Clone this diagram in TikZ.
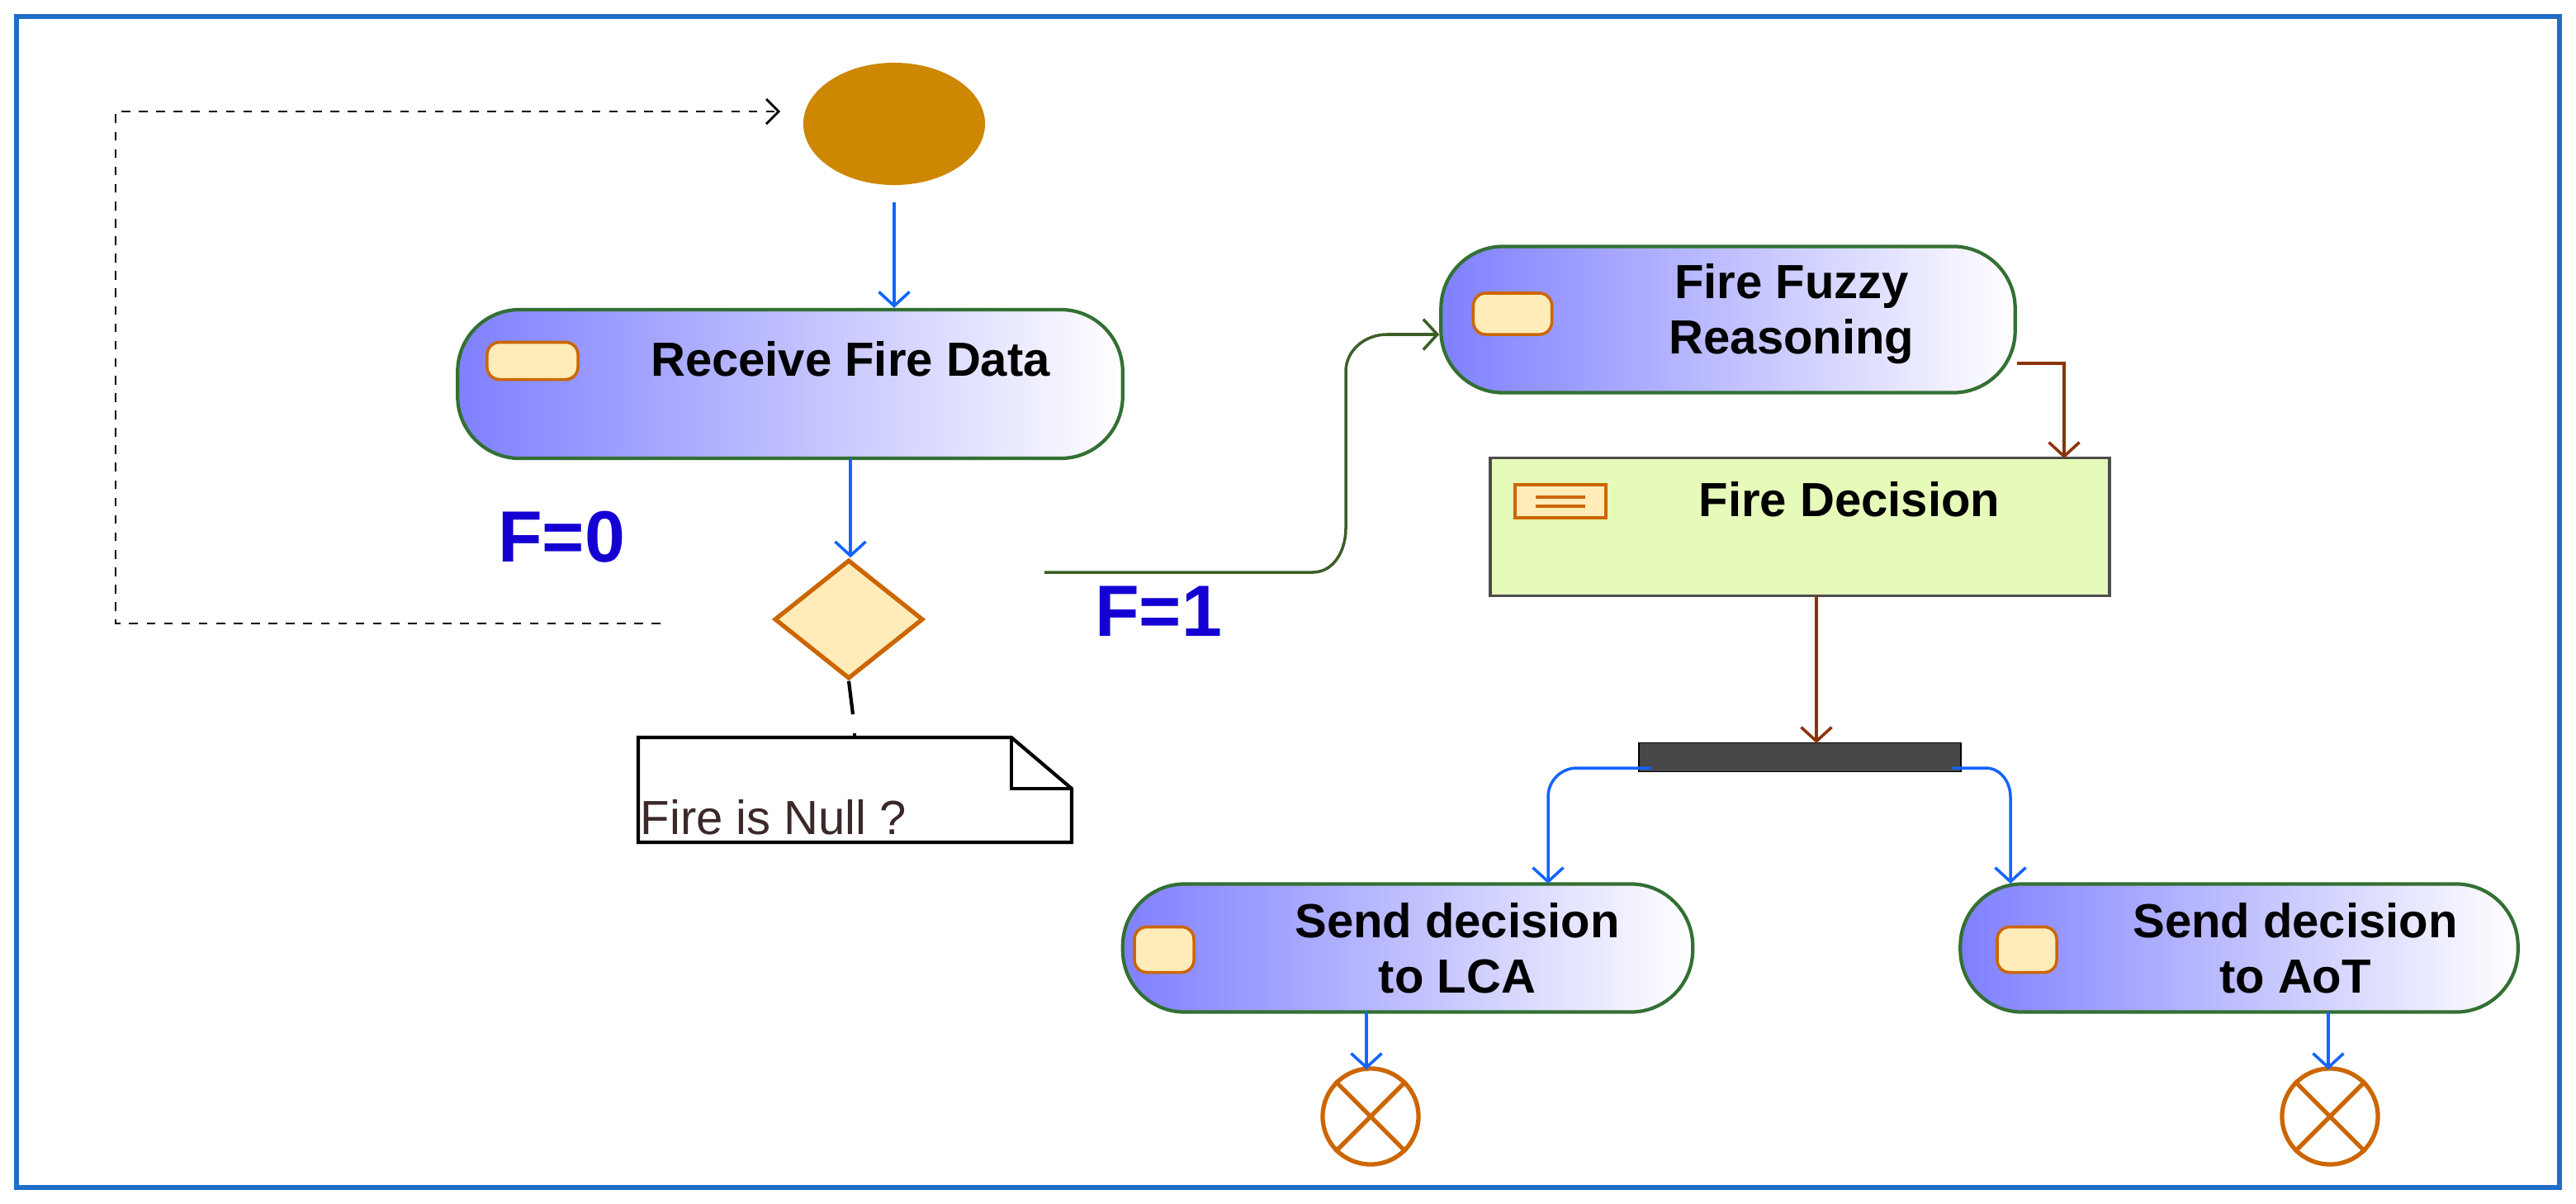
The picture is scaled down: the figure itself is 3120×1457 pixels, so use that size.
\documentclass[tikz,border=0pt]{standalone}
\usepackage{fontspec}
\setmainfont{Liberation Sans}
\usetikzlibrary{arrows.meta,shapes.geometric}
\begin{document}
\begin{tikzpicture}[x=0.01cm,y=-0.01cm,
  act/.style={draw=green!30!black!80, line width=1.2pt, rounded corners=0.75cm, left color=blue!50!white, right color=white, inner sep=0pt},
  txt/.style={font=\bfseries\fontsize{16.5}{19}\selectfont, align=center},
  ico/.style={draw=orange!80!black, line width=1pt, fill={rgb,255:red,255;green,236;blue,185}, rounded corners=0.15cm},
  ar/.style={-{Straight Barb[length=0.17cm,width=0.37cm]}, line width=1pt},
  bl/.style={color={rgb,255:red,20;green,100;blue,255}},
  br/.style={color={rgb,255:red,140;green,50;blue,10}},
  lab/.style={font=\bfseries\fontsize{25}{28}\selectfont, text={rgb,255:red,20;green,0;blue,210}},
  fin/.style={draw=orange!80!black, line width=1.5pt, fill=white}]
\useasboundingbox (0,0) rectangle (3120,1457);
\draw[color={rgb,255:red,30;green,110;blue,200}, line width=1.5pt] (20,20) rectangle (3100,1438);
% start
\node[ellipse, fill={rgb,255:red,205;green,135;blue,0}, minimum width=2.2cm, minimum height=1.48cm, inner sep=0] (start) at (1083,150) {};
% receive
\node[act, minimum width=8.05cm, minimum height=1.8cm] (rec) at (957,465) {};
\node[ico, minimum width=1.1cm, minimum height=0.45cm] (i1) at (645,437) {};
\node[txt] (t1) at (1030,435) {Receive Fire Data};
\draw[ar,bl] (start.south |- 0,245) coordinate (s1) -- (rec.north -| s1);
% diamond
\node[diamond, draw=orange!80!black, line width=1.5pt, fill={rgb,255:red,255;green,236;blue,185}, minimum width=1.8cm, minimum height=1.44cm, inner sep=0, aspect=1.25] (dec) at (1028,750) {};
\draw[ar,bl] (1030,555) coordinate (r1) -- (dec.north -| r1);
\node[lab] (f0) at (680,650) {F=0};
\node[lab] (f1) at (1403,740) {F=1};
% dashed loop
\coordinate (d1) at (800,755);
\coordinate (d2) at (945,135);
\draw[dashed, line width=0.8pt, -{Straight Barb[length=0.15cm,width=0.3cm]}] (d1) -- (140,755) -- (140,135) -- (d2);
% note
\draw[line width=1.2pt] (dec.south) -- (1033,865);
\draw[line width=1.2pt] (1035,888) -- (1035,893);
\draw[line width=1.2pt, fill=white] (773,893) -- (1225,893) -- (1298,955) -- (1298,1020) -- (773,1020) -- cycle;
\draw[line width=1.2pt] (1225,893) -- (1225,955) -- (1298,955);
\node[anchor=south west, font=\fontsize{16.5}{19}\selectfont, text={rgb,255:red,60;green,40;blue,40}, inner sep=0] (note) at (775,1012) {Fire is Null ?};
% fuzzy
\node[act, minimum width=6.95cm, minimum height=1.77cm] (fuz) at (2093,387) {};
\node[ico, minimum width=0.95cm, minimum height=0.5cm] (i2) at (1832,380) {};
\node[txt] (t2) at (2170,380) {Fire Fuzzy\\Reasoning};
\coordinate (g0) at (1265,693);
\draw[ar, color={rgb,255:red,60;green,95;blue,40}] (g0) -- (1590,693) to[out=0,in=-90] (1630,640) -- (1630,450) to[out=90,in=180] (1680,405) -- (fuz.west |- 0,405);
% decision
\node[draw=black!70, line width=1pt, fill={rgb,255:red,230;green,250;blue,185}, minimum width=7.5cm, minimum height=1.67cm, inner sep=0] (fd) at (2180,638) {};
\node[draw=orange!80!black, line width=1pt, fill={rgb,255:red,255;green,236;blue,185}, minimum width=1.1cm, minimum height=0.4cm, inner sep=0] (i3) at (1890,607) {};
\draw[orange!80!black, line width=1pt] (1860,602) -- (1920,602) (1860,613) -- (1920,613);
\node[txt] (t3) at (2240,605) {Fire Decision};
\draw[ar,br] (fuz.east |- 0,440) -- (2500,440) -- (2500,555);
% bar
\node[draw=black, fill=black!72, minimum width=3.9cm, minimum height=0.35cm, inner sep=0] (bar) at (2180,917) {};
\draw[ar,br] (2200,722) -- (2200,900);
% sends
\node[act, minimum width=6.9cm, minimum height=1.55cm] (lca) at (1705,1148) {};
\node[ico, minimum width=0.72cm, minimum height=0.55cm] (i4) at (1410,1150) {};
\node[txt] (t4) at (1765,1148) {Send decision\\to LCA};
\node[act, minimum width=6.75cm, minimum height=1.55cm] (aot) at (2712,1148) {};
\node[ico, minimum width=0.72cm, minimum height=0.55cm] (i5) at (2455,1150) {};
\node[txt] (t5) at (2780,1148) {Send decision\\to AoT};
\draw[ar,bl] (2000,930) -- (1910,930) to[out=180,in=90] (1875,965) -- (1875,1070);
\draw[ar,bl] (2365,930) -- (2405,930) to[out=0,in=90] (2435,965) -- (2435,1070);
% finals
\node[circle, fin, minimum size=1.16cm, inner sep=0] (e1) at (1660,1352) {};
\draw[orange!80!black, line width=1.5pt] (e1.45) -- (e1.225) (e1.135) -- (e1.315);
\node[circle, fin, minimum size=1.16cm, inner sep=0] (e2) at (2822,1352) {};
\draw[orange!80!black, line width=1.5pt] (e2.45) -- (e2.225) (e2.135) -- (e2.315);
\draw[ar,bl] (1655,1225) -- (1655,1295);
\draw[ar,bl] (2820,1225) -- (2820,1295);
\end{tikzpicture}
\end{document}
